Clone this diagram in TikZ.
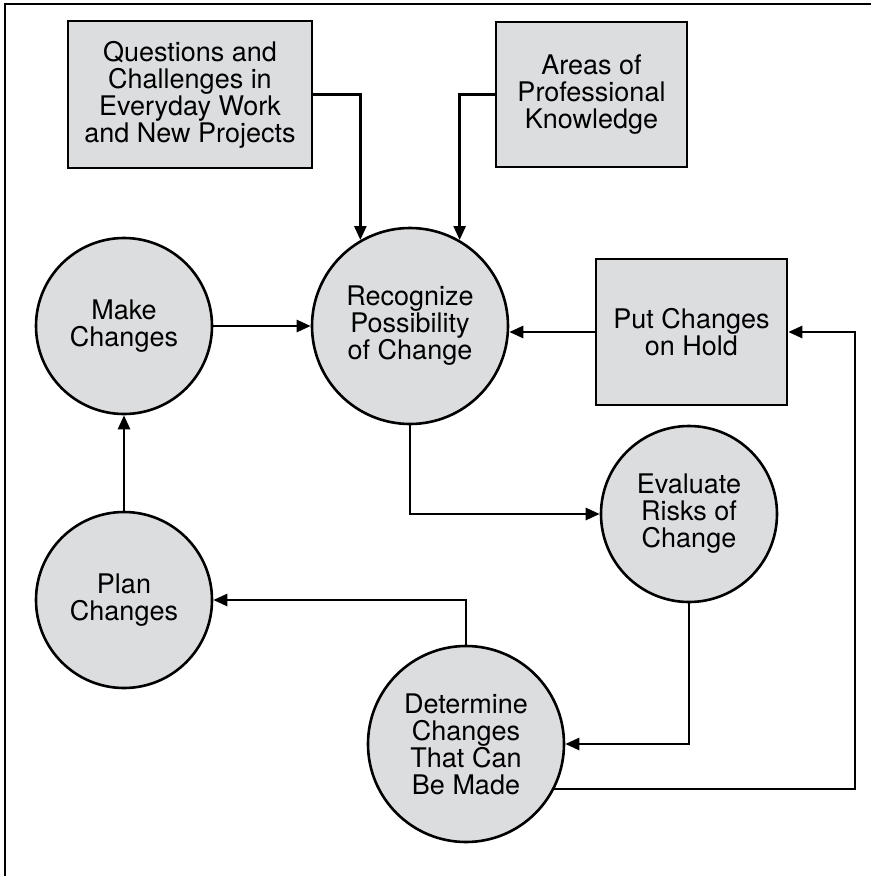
\documentclass[tikz,border=0pt]{standalone}
\usepackage{fontspec}
\setmainfont{TeX Gyre Heros}
\usetikzlibrary{arrows.meta}
\definecolor{stagegray}{RGB}{220,221,223}

\begin{document}
\begin{tikzpicture}[x=1pt,y=-1pt,
        stage/.style={circle,draw,fill=stagegray,line width=2.6pt,inner sep=0pt,minimum size=#1,
            align=center,font=\fontsize{27}{27}\selectfont},
        infobox/.style={rectangle,draw,fill=stagegray,line width=2.6pt,inner sep=0pt,
            align=center,font=\fontsize{27}{27}\selectfont},
        flow/.style={-{Triangle[length=14pt,width=12pt]},line width=2.6pt,line join=miter}]
        \useasboundingbox (0,0) rectangle (871,876);
        \draw[line width=1.6pt] (5,876) -- (5,4) -- (871,4);

        \node[infobox,minimum width=244pt,minimum height=147pt] (quest) at (190,94.5)
            {Questions and\\Challenges in\\Everyday Work\\and New Projects};
        \node[infobox,minimum width=191pt,minimum height=145pt] (areas) at (591.5,94.5)
            {Areas of\\Professional\\Knowledge};
        \node[stage=176pt] (make) at (124,326) {Make\\Changes};
        \node[stage=196pt] (recog) at (410,326) {Recognize\\Possibility\\of Change};
        \node[infobox,minimum width=191pt,minimum height=146pt] (hold) at (691.5,332)
            {Put Changes\\on Hold};
        \node[stage=176pt] (evalr) at (689,514) {Evaluate\\Risks of\\Change};
        \node[stage=176pt] (plan) at (124,600) {Plan\\Changes};
        \node[stage=196pt] (determ) at (466,744) {Determine\\Changes\\That Can\\Be Made};
        \coordinate (rside) at (855,0);

        \draw[flow] (quest.east) -| (recog.120);
        \draw[flow] (areas.west) -| (recog.60);
        \draw[flow] (make) -- (recog);
        \draw[flow] (hold.west) -- (hold.west -| recog.east);
        \draw[flow] (recog.south) |- (evalr.west);
        \draw[flow] (evalr.south) |- (determ.east);
        \draw[flow] (determ.north) |- (plan.east);
        \draw[flow] (plan) -- (make);
        \draw[flow] (determ.-27) -- (determ.-27 -| rside) |- (hold.east);
    \end{tikzpicture}
\end{document}
